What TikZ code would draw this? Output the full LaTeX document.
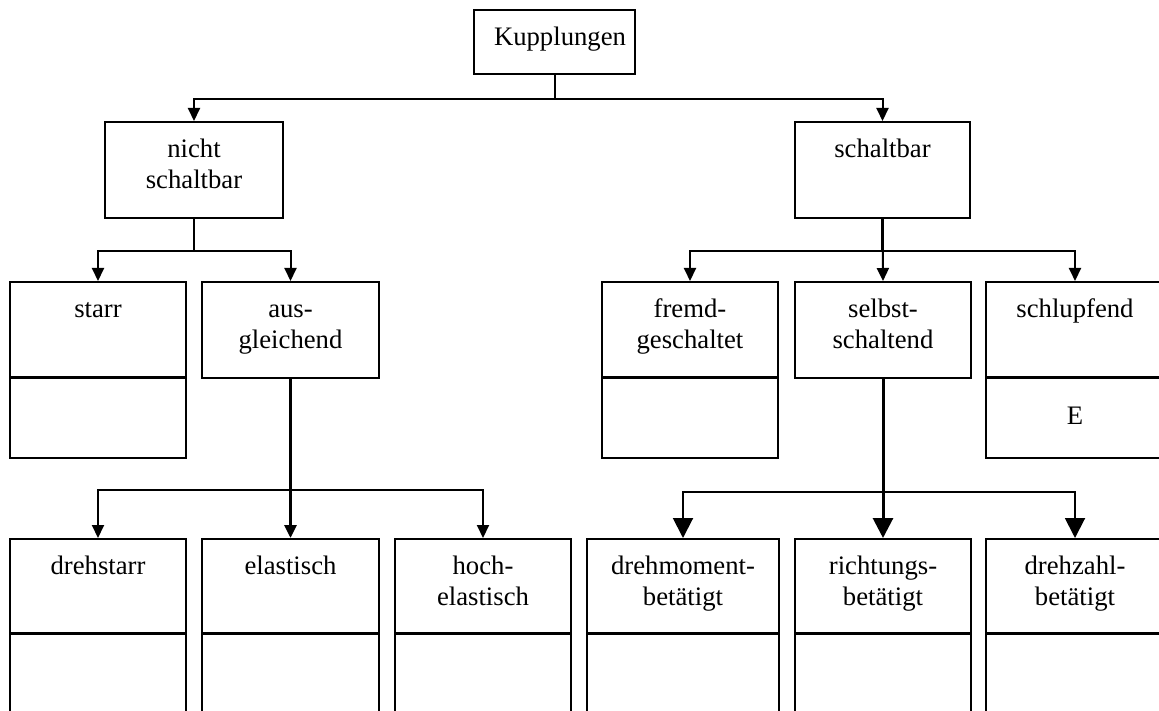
\documentclass[tikz,border=0pt]{standalone}
\usepackage{fontspec}
\setmainfont{Liberation Serif}
\usetikzlibrary{arrows.meta}

\begin{document}
\begin{tikzpicture}[x=1pt,y=-1pt,
  box/.style={draw, line width=2pt, rectangle, inner sep=0pt},
  lbl/.style={font=\fontsize{26.7}{31}\selectfont, anchor=north, inner sep=0pt, align=center},
  conn/.style={line width=2pt},
  trunk/.style={line width=3pt},
  divline/.style={line width=2.8pt},
  tip/.style={-{Triangle[width=12pt,length=13pt]}},
  bigtip/.style={-{Triangle[width=20pt,length=20pt]}}]

\useasboundingbox (0,0) rectangle (1159,711);
\clip (0,0) rectangle (1159,711);

% --- boxes -------------------------------------------------------------
\node[box, minimum width=161pt, minimum height=64pt] (kup)    at (554.5,42)  {};
\node[box, minimum width=178pt, minimum height=96pt] (nicht)  at (194,170)   {};
\node[box, minimum width=175pt, minimum height=96pt] (schalt) at (882.5,170) {};

% second level: upper part with the name, lower part below it
\node[box, minimum width=176pt, minimum height=96pt] (starr)    at (98,330)    {};
\node[box, minimum width=176pt, minimum height=80pt] (starrL)   at (98,418)    {};
\node[box, minimum width=177pt, minimum height=96pt] (ausg)     at (290.5,330) {};
\node[box, minimum width=176pt, minimum height=96pt] (fremd)    at (690,330)   {};
\node[box, minimum width=176pt, minimum height=80pt] (fremdL)   at (690,418)   {};
\node[box, minimum width=176pt, minimum height=96pt] (selbst)   at (883,330)   {};
\node[box, minimum width=178pt, minimum height=96pt] (schlupf)  at (1075,330)  {};
\node[box, minimum width=178pt, minimum height=80pt] (schlupfL) at (1075,418)  {};

% third level
\node[box, minimum width=176pt, minimum height=95pt]  (drehst)  at (98,586.5)    {};
\node[box, minimum width=176pt, minimum height=106pt] (drehstL) at (98,687)      {};
\node[box, minimum width=177pt, minimum height=95pt]  (elast)   at (290.5,586.5) {};
\node[box, minimum width=177pt, minimum height=106pt] (elastL)  at (290.5,687)   {};
\node[box, minimum width=176pt, minimum height=95pt]  (hoch)    at (483,586.5)   {};
\node[box, minimum width=176pt, minimum height=106pt] (hochL)   at (483,687)     {};
\node[box, minimum width=192pt, minimum height=95pt]  (drehm)   at (683,586.5)   {};
\node[box, minimum width=192pt, minimum height=106pt] (drehmL)  at (683,687)     {};
\node[box, minimum width=176pt, minimum height=95pt]  (richt)   at (883,586.5)   {};
\node[box, minimum width=176pt, minimum height=106pt] (richtL)  at (883,687)     {};
\node[box, minimum width=178pt, minimum height=95pt]  (drehz)   at (1075,586.5)  {};
\node[box, minimum width=178pt, minimum height=106pt] (drehzL)  at (1075,687)    {};

% heavier dividers between upper and lower parts
\foreach \n in {starrL,fremdL,schlupfL,drehstL,elastL,hochL,drehmL,richtL,drehzL}
  \draw[divline] (\n.north west) -- (\n.north east);

% --- labels ------------------------------------------------------------
\node[lbl] (tkup)    at (560,23.3)     {\strut Kupplungen};
\node[lbl] (tnicht)  at (194,135.3)    {\strut nicht\\\strut schaltbar};
\node[lbl] (tschalt) at (882.5,135.3)  {\strut schaltbar};
\node[lbl] (tstarr)  at (98,295.3)     {\strut starr};
\node[lbl] (tausg)   at (290.5,295.3)  {\strut aus-\\\strut gleichend};
\node[lbl] (tfremd)  at (690,295.3)    {\strut fremd-\\\strut geschaltet};
\node[lbl] (tselbst) at (883,295.3)    {\strut selbst-\\\strut schaltend};
\node[lbl] (tschl)   at (1075,295.3)   {\strut schlupfend};
\node[lbl] (tE)      at (1075,402.3)   {\strut E};
\node[lbl] (tdrehst) at (98,552.3)     {\strut drehstarr};
\node[lbl] (telast)  at (290.5,552.3)  {\strut elastisch};
\node[lbl] (thoch)   at (483,552.3)    {\strut hoch-\\\strut elastisch};
\node[lbl] (tdrehm)  at (683,552.3)    {\strut drehmoment-\\\strut betätigt};
\node[lbl] (tricht)  at (883,552.3)    {\strut richtungs-\\\strut betätigt};
\node[lbl] (tdrehz)  at (1075,552.3)   {\strut drehzahl-\\\strut betätigt};

% --- connectors --------------------------------------------------------
\draw[conn,tip] (kup.south) -- ++(0,24) -| (nicht.north);
\draw[conn,tip] (kup.south) -- ++(0,24) -| (schalt.north);

\draw[conn,tip] (nicht.south) -- ++(0,32) -| (starr.north);
\draw[conn,tip] (nicht.south) -- ++(0,32) -| (ausg.north);

\draw[trunk] (schalt.south) -- ++(0,32);
\draw[conn,tip] (schalt.south) -- ++(0,32) -| (fremd.north);
\draw[conn,tip] (schalt.south) -- (selbst.north);
\draw[conn,tip] (schalt.south) -- ++(0,32) -| (schlupf.north);

\draw[trunk] (ausg.south) -- ++(0,111);
\draw[conn,tip] (ausg.south) -- ++(0,111) -| (drehst.north);
\draw[trunk,tip] (ausg.south) -- (elast.north);
\draw[conn,tip] (ausg.south) -- ++(0,111) -| (hoch.north);

\draw[trunk] (selbst.south) -- ++(0,113);
\draw[conn,bigtip] (selbst.south) -- ++(0,113) -| (drehm.north);
\draw[trunk,bigtip] (selbst.south) -- (richt.north);
\draw[conn,bigtip] (selbst.south) -- ++(0,113) -| (drehz.north);
\end{tikzpicture}
\end{document}
